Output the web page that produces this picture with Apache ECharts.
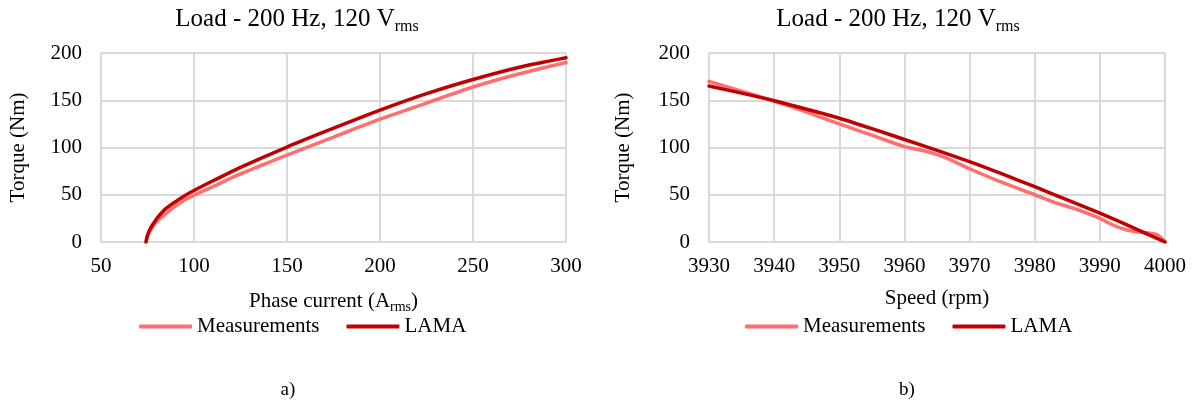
<!DOCTYPE html>
<html><head><meta charset="utf-8">
<script src="https://cdn.jsdelivr.net/npm/echarts@6/dist/echarts.min.js"></script>
<style>html,body{margin:0;padding:0;background:#fff}#c{width:1195px;height:403px}</style>
</head><body><div id="c"></div>
<script>
// ---- Data: chart a) torque vs phase current ----
const currentMeasA = [74.2, 74.7, 75.6, 77.5, 80, 83, 86, 90, 94, 100, 110, 125, 150, 175, 200, 225, 250, 275, 300];
const torqueMeasA  = [0, 4.5, 9, 15, 21.5, 27, 32, 38, 43.5, 49.5, 58.5, 72, 92, 111, 130, 147, 164, 178, 190];
const currentLamaA = [74.2, 74.6, 75.4, 77, 79, 80.8, 85, 90.7, 95, 100, 110, 125, 150, 172, 200, 225, 250, 275, 300];
const torqueLamaA  = [0, 4, 9.5, 16, 22, 26.8, 35.5, 43.5, 49, 54.5, 64.5, 79, 100.5, 118, 139.5, 157, 172, 185, 195];

// ---- Data: chart b) torque vs speed ----
const speedMeasB  = [3930, 3935, 3940, 3945, 3950, 3955, 3960, 3963, 3966, 3970, 3975, 3980, 3983, 3986, 3988, 3990, 3992, 3994, 3996, 3997.5, 3998.7, 3999.5, 4000];
const torqueMeasB = [170, 159.5, 149, 137.5, 125, 113, 101, 96.5, 90, 77.5, 63, 50, 42, 35.5, 30.5, 25, 18, 13, 10.5, 9.5, 8, 4, 0];
const speedLamaB  = [3930, 3935, 3940, 3945, 3950, 3955, 3960, 3965, 3970, 3975, 3980, 3985, 3990, 3995, 4000];
const torqueLamaB = [165, 157.5, 149.5, 140.5, 131, 120, 108.5, 97, 85, 72, 58.5, 44.5, 30.5, 15.5, 0];

const seriesNames = ['Measurements', 'LAMA'];
const titleText = 'Load - 200 Hz, 120 V';
const titleSub = 'rms';
const xNameA = 'Phase current (A';
const xNameB = 'Speed (rpm)';
const yName = 'Torque (Nm)';
const panelLabels = ['a)', 'b)'];

const pair = (xs, ys) => xs.map((x, i) => [x, ys[i]]);

const FONT = 'Liberation Serif';
const MEAS = '#FF6F6F';
const LAMA = '#C00000';
const GRIDC = '#D9D9D9';

function xAxisCfg(idx, min, max, interval, name, rich) {
  return {
    type: 'value', gridIndex: idx, min, max, interval,
    name, nameLocation: 'middle', nameGap: 46,
    nameTextStyle: { fontFamily: FONT, fontSize: 21, color: '#000', rich: rich },
    axisLine: { show: true, lineStyle: { color: GRIDC, width: 2 } },
    axisTick: { show: false },
    axisLabel: { fontFamily: FONT, fontSize: 21, color: '#000', margin: 14, formatter: v => String(v) },
    splitLine: { show: true, lineStyle: { color: GRIDC, width: 2 } }
  };
}
function yAxisCfg(idx, gap) {
  return {
    type: 'value', gridIndex: idx, min: 0, max: 200, interval: 50,
    name: yName, nameLocation: 'middle', nameGap: gap,
    nameTextStyle: { fontFamily: FONT, fontSize: 21, color: '#000' },
    axisLine: { show: false }, axisTick: { show: false },
    axisLabel: { fontFamily: FONT, fontSize: 21, color: '#000', margin: 19 },
    splitLine: { show: true, lineStyle: { color: GRIDC, width: 2 } }
  };
}
const subRich = {
  s: { fontFamily: FONT, fontSize: 14, color: '#000', padding: [12, 0, 0, 0] }
};
function lineSeries(name, color, xi, data) {
  return {
    type: 'line', name, xAxisIndex: xi, yAxisIndex: xi, data,
    showSymbol: false, symbol: 'none', smooth: 0.25,
    lineStyle: { color, width: 3.5, cap: 'round' }, itemStyle: { color },
    z: name === 'LAMA' ? 3 : 2
  };
}
function legendCfg(left) {
  return {
    data: seriesNames, left, top: 311, icon: 'roundRect',
    itemWidth: 53, itemHeight: 4, itemGap: 27,
    textStyle: { fontFamily: FONT, fontSize: 21, color: '#000' }
  };
}
function titleGraphic(cx) {
  return {
    type: 'text', x: cx, y: 19,
    style: {
      text: '{m|' + titleText + '}{s|' + titleSub + '}',
      align: 'center', verticalAlign: 'middle',
      rich: {
        m: { fontFamily: FONT, fontSize: 25, lineHeight: 30, fill: '#000', color: '#000' },
        s: { fontFamily: FONT, fontSize: 16, lineHeight: 16, fill: '#000', color: '#000', padding: [15, 0, 0, 0] }
      }
    }
  };
}
function panelGraphic(cx, text) {
  return { type: 'text', x: cx, y: 390, style: { text, font: '19px "' + FONT + '"', fill: '#000', align: 'center', verticalAlign: 'middle' } };
}

const chart = echarts.init(document.getElementById('c'), null, { renderer: 'canvas' });
chart.setOption({
  animation: false,
  backgroundColor: '#fff',
  grid: [
    { left: 101, right: 629, top: 53, bottom: 161 },
    { left: 709, right: 30, top: 53, bottom: 161 }
  ],
  xAxis: [
    xAxisCfg(0, 50, 300, 50, xNameA + '{s|rms})', subRich),
    xAxisCfg(1, 3930, 4000, 10, xNameB, subRich)
  ],
  yAxis: [yAxisCfg(0, 72), yAxisCfg(1, 75)],
  legend: [legendCfg(134), legendCfg(740)],
  series: [
    lineSeries(seriesNames[0], MEAS, 0, pair(currentMeasA, torqueMeasA)),
    lineSeries(seriesNames[1], LAMA, 0, pair(currentLamaA, torqueLamaA)),
    lineSeries(seriesNames[0], MEAS, 1, pair(speedMeasB, torqueMeasB)),
    lineSeries(seriesNames[1], LAMA, 1, pair(speedLamaB, torqueLamaB))
  ],
  graphic: [
    titleGraphic(297), titleGraphic(898),
    panelGraphic(288, panelLabels[0]), panelGraphic(907, panelLabels[1])
  ]
});
</script>
</body></html>
